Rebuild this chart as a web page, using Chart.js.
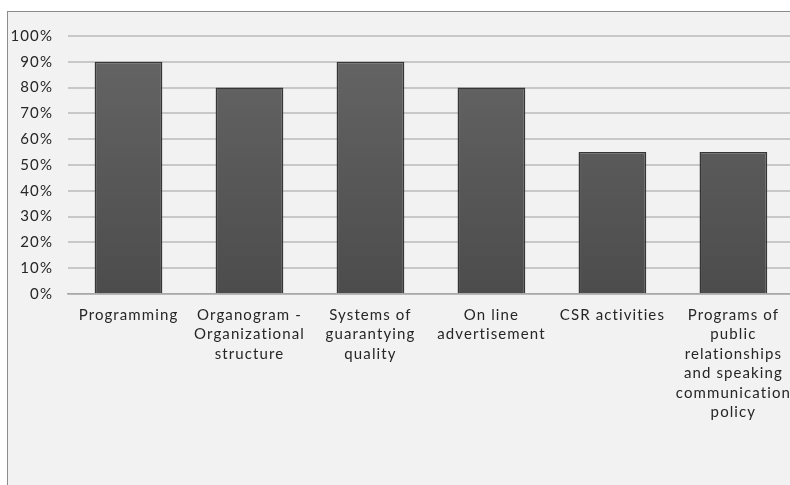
<!DOCTYPE html>
<html>
<head>
<meta charset="utf-8">
<script src="https://cdn.jsdelivr.net/npm/chart.js@4.4.1/dist/chart.umd.min.js"></script>
<style>
	html, body { margin: 0; padding: 0; background: #ffffff; overflow: hidden; width: 790px; height: 485px; }
	.graphic { position: absolute; left: 7px; top: 11px; width: 790px; height: 480px; background: #f2f2f2; border-left: 1px solid #8c8c8c; border-top: 1px solid #8c8c8c; }
	.graphic__canvas { position: absolute; left: 0; top: 0; }
</style>
</head>
<body>
<div class="graphic">
	<canvas class="graphic__canvas" width="786" height="473"></canvas>
</div>
<script>
const CATEGORIES = [
	['Programming'],
	['Organogram -', 'Organizational', 'structure'],
	['Systems of', 'guarantying', 'quality'],
	['On line', 'advertisement'],
	['CSR activities'],
	['Programs of', 'public', 'relationships', 'and speaking', 'communication', 'policy']
];
const VALUES = [90, 80, 90, 80, 55, 55];
const Y_TICKS = [0, 10, 20, 30, 40, 50, 60, 70, 80, 90, 100];

window.addEventListener('load', () => {
	let canvas = document.querySelector('.graphic__canvas');

	//Calibri-like spacing for the labels
	const spacingPlugin = {
		id: 'spacing',
		beforeUpdate(chart) { chart.ctx.letterSpacing = '1.1px'; },
		beforeDraw(chart) { chart.ctx.letterSpacing = '1.1px'; }
	};

	//Dark bar fill, slightly lighter at the top
	function barFill(context) {
		let area = context.chart.chartArea;
		if (!area) {
			return '#5a5a5a';
		}
		let gradient = context.chart.ctx.createLinearGradient(0, area.top, 0, area.bottom);
		gradient.addColorStop(0, '#666666');
		gradient.addColorStop(1, '#4c4c4c');
		return gradient;
	}

	new Chart(canvas, {
		type: 'bar',
		data: {
			labels: CATEGORIES,
			datasets: [{
				data: VALUES,
				backgroundColor: barFill,
				borderColor: '#363636',
				borderWidth: 1.5,
				categoryPercentage: 1,
				barPercentage: 0.56
			}]
		},
		options: {
			responsive: false,
			animation: false,
			devicePixelRatio: 1,
			layout: { padding: { top: 24, left: 0, right: 0, bottom: 0 } },
			plugins: {
				legend: { display: false },
				tooltip: { enabled: false }
			},
			scales: {
				x: {
					grid: { display: false },
					border: { color: '#a8a8a8', width: 1.5 },
					ticks: {
						color: '#262626',
						font: { family: 'Lato', size: 15, lineHeight: 1.3 },
						maxRotation: 0,
						autoSkip: false,
						padding: 3
					},
					afterFit(scale) { scale.height = 191; }
				},
				y: {
					min: 0,
					max: 100,
					afterBuildTicks(scale) { scale.ticks = Y_TICKS.map((v) => ({ value: v })); },
					grid: { color: '#c8c8c8', lineWidth: 2, drawTicks: false },
					border: { display: false },
					ticks: {
						color: '#262626',
						font: { family: 'Lato', size: 15 },
						padding: 15,
						callback: (value) => value + '%'
					},
					afterFit(scale) { scale.width = 60; }
				}
			}
		},
		plugins: [spacingPlugin]
	});
}, { once: true });
</script>
</body>
</html>
